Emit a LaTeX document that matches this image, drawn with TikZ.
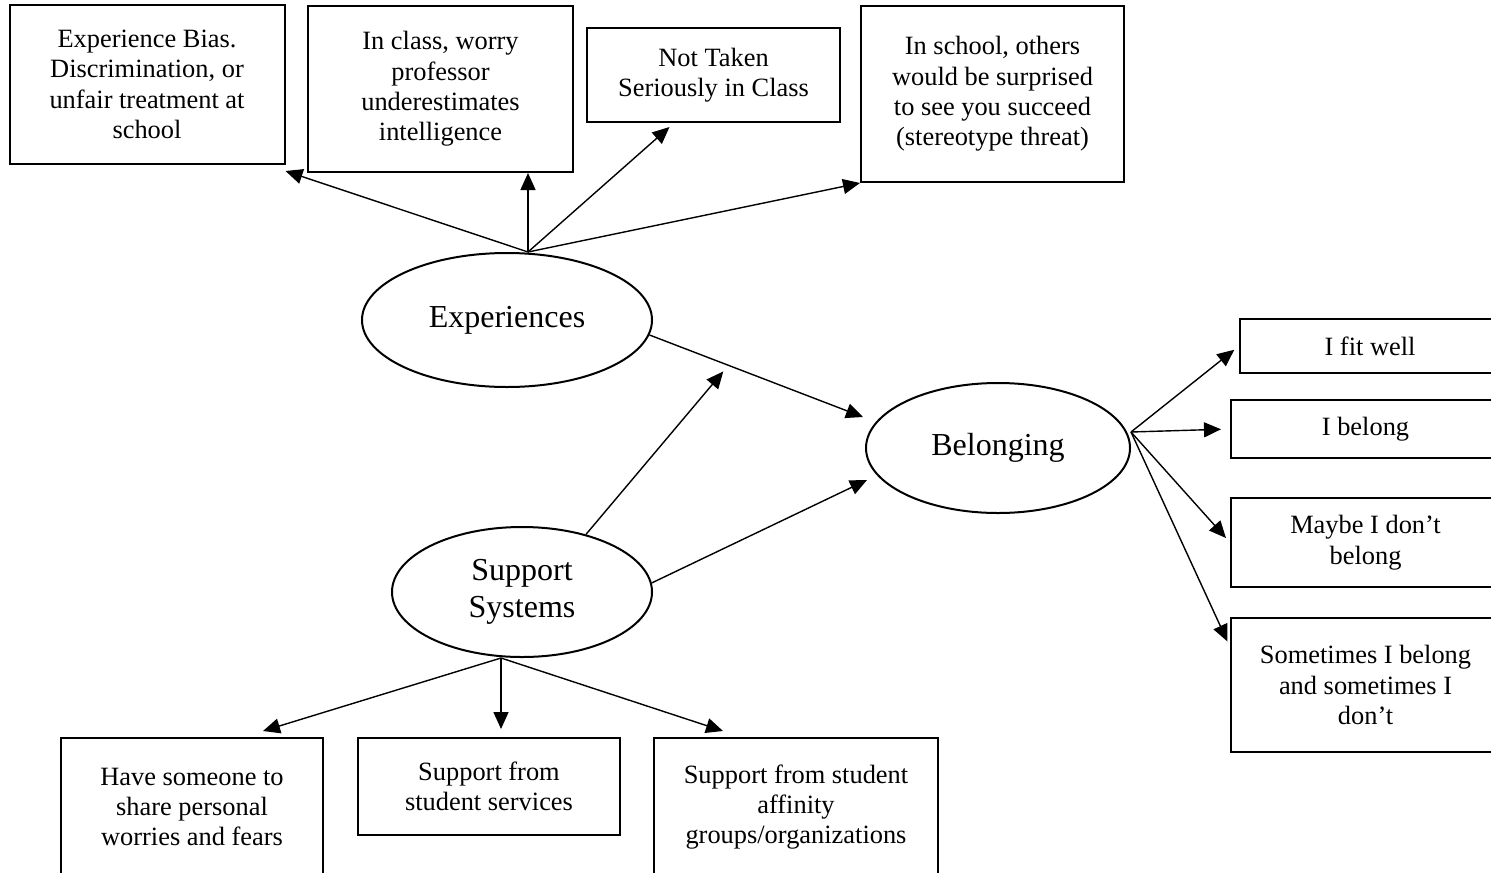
\documentclass[tikz,border=0pt]{standalone}
\usepackage{fontspec}
\setmainfont{Liberation Serif}
\usetikzlibrary{arrows.meta}
\usetikzlibrary{shapes.geometric}
\newcommand\boxfont{\fontsize{13.2}{15.2}\selectfont}
\newcommand\ellfont{\fontsize{16}{18.4}\selectfont}
\tikzstyle{item}=[draw,line width=1pt,align=center,inner sep=0pt,font=\boxfont]
\tikzstyle{latent}=[draw,ellipse,line width=1pt,inner sep=0pt,align=center,font=\ellfont]
\tikzstyle{arr}=[line width=.7pt,-{Triangle[length=8.5pt,width=7.5pt]}]

\begin{document}
\begin{tikzpicture}[x=.5pt,y=-.5pt]
	\path[use as bounding box,clip] (0,0) rectangle (1491,872);
	% latent variables
	\node[latent,minimum width=145pt,minimum height=67pt] (exp) at (507,320) {Experiences};
	\node[latent,minimum width=132pt,minimum height=65pt] (bel) at (998,448) {Belonging};
	\node[latent,minimum width=130pt,minimum height=65pt] (sup) at (522,592) {Support\\Systems};
	% experiences
	\node[item,minimum width=137.5pt,minimum height=79.5pt] (A) at (147,84.5) {Experience Bias.\\Discrimination, or\\unfair treatment at\\school};
	\node[item,minimum width=132.5pt,minimum height=83pt] (B) at (440.5,89) {In class, worry\\professor\\underestimates\\intelligence};
	\node[item,minimum width=126.5pt,minimum height=47pt] (C) at (713.5,75) {Not Taken\\Seriously in Class};
	\node[item,minimum width=131.5pt,minimum height=88pt] (D) at (992.5,94) {In school, others\\would be surprised\\to see you succeed\\(stereotype threat)};
	% belonging
	\node[item,minimum width=130pt,minimum height=27pt] (E) at (1370,346) {I fit well};
	\node[item,minimum width=134.5pt,minimum height=29pt] (F) at (1365.5,429) {I belong};
	\node[item,minimum width=134.5pt,minimum height=44.5pt] (G) at (1365.5,542.5) {Maybe I don’t\\belong};
	\node[item,minimum width=134.5pt,minimum height=67pt] (H) at (1365.5,685) {Sometimes I belong\\and sometimes I\\don’t};
	% support systems
	\node[item,minimum width=131pt,minimum height=69pt] (I) at (192,807) {Have someone to\\share personal\\worries and fears};
	\node[item,minimum width=131pt,minimum height=48.5pt] (J) at (489,786.5) {Support from\\student services};
	\node[item,minimum width=142pt,minimum height=69pt] (K) at (796,807) {Support from student\\affinity\\groups/organizations};
	\coordinate (et) at ([xshift=10.5pt]exp.north);
	\coordinate (bo) at ([yshift=8pt]bel.east);
	\coordinate (so) at ([xshift=-10.5pt]sup.south);
	\draw[arr] (et) -- ([yshift=-3pt]A.south east);
	\draw[arr] (et) -- (et |- B.south);
	\draw[arr] (et) -- ([xshift=-22pt,yshift=-2pt]C.south);
	\draw[arr] (et) -- (D.south west);
	\draw[arr] (exp.-6) -- coordinate[pos=.37] (mod) ([xshift=-1pt,yshift=15.5pt]bel.west);
	\draw[arr] (sup.4) -- ([xshift=1pt,yshift=-16pt]bel.west);
	\draw[arr,shorten >=4pt] (sup.42) -- (mod);
	\draw[arr,shorten >=3pt] (bo) -- (E.west);
	\draw[arr,shorten >=4.5pt] (bo) -- (F.west);
	\draw[arr,shorten >=3pt] (bo) -- (G.west);
	\draw[arr,shorten >=3pt] (bo) -- ([yshift=-15pt]H.north west);
	\draw[arr] (so) -- ([xshift=35.5pt,yshift=3pt]I.north);
	\draw[arr,shorten >=4pt] (so) -- (so |- J.north);
	\draw[arr] (so) -- ([xshift=-36.5pt,yshift=3pt]K.north);
\end{tikzpicture}
\end{document}
